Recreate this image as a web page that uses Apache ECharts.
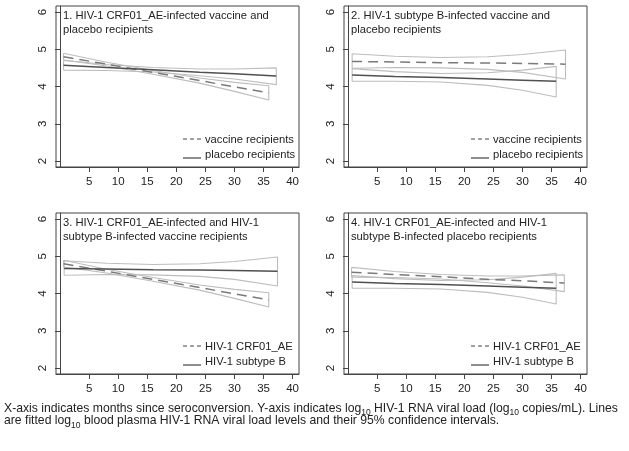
<!DOCTYPE html>
<html><head><meta charset="utf-8">
<script src="https://cdn.jsdelivr.net/npm/echarts@6/dist/echarts.min.js"></script>
<style>html,body{margin:0;padding:0;background:#fff}#c{width:629px;height:451px}</style>
</head><body><div id="c"></div>
<script>
// tick labels
const xTicks = [5, 10, 15, 20, 25, 30, 35, 40];
const yTicks = [2, 3, 4, 5, 6];

// HIV-1 CRF01_AE-infected vaccine recipients
const aeVacX = [0.6, 8, 16, 24, 30, 35.9];
const aeVacFit = [4.80, 4.60, 4.38, 4.16, 3.99, 3.83];
const aeVacUp = [4.89, 4.65, 4.43, 4.23, 4.11, 4.02];
const aeVacLo = [4.71, 4.55, 4.33, 4.09, 3.87, 3.64];
// HIV-1 CRF01_AE-infected placebo recipients
const aePlaX = [0.6, 8, 16, 24, 30, 37.2];
const aePlaFit = [4.57, 4.51, 4.45, 4.38, 4.34, 4.28];
const aePlaUp = [4.70, 4.59, 4.51, 4.47, 4.47, 4.50];
const aePlaLo = [4.44, 4.43, 4.39, 4.29, 4.20, 4.05];
// HIV-1 subtype B-infected vaccine recipients
const bVacX = [0.7, 8, 16, 24, 30, 37.4];
const bVacFit = [4.67, 4.66, 4.64, 4.63, 4.62, 4.60];
const bVacUp = [4.88, 4.81, 4.78, 4.80, 4.86, 4.98];
const bVacLo = [4.49, 4.51, 4.50, 4.46, 4.38, 4.20];
// HIV-1 subtype B-infected placebo recipients
const bPlaX = [0.7, 8, 16, 24, 30, 35.8];
const bPlaFit = [4.31, 4.27, 4.24, 4.20, 4.17, 4.14];
const bPlaUp = [4.48, 4.40, 4.35, 4.37, 4.44, 4.54];
const bPlaLo = [4.14, 4.14, 4.12, 4.03, 3.90, 3.72];

const panelTitles = [
  '1. HIV-1 CRF01_AE-infected vaccine and\nplacebo recipients',
  '2. HIV-1 subtype B-infected vaccine and\nplacebo recipients',
  '3. HIV-1 CRF01_AE-infected and HIV-1\nsubtype B-infected vaccine recipients',
  '4. HIV-1 CRF01_AE-infected and HIV-1\nsubtype B-infected placebo recipients'
];
const legendDashed = ['vaccine recipients', 'vaccine recipients', 'HIV-1 CRF01_AE', 'HIV-1 CRF01_AE'];
const legendSolid = ['placebo recipients', 'placebo recipients', 'HIV-1 subtype B', 'HIV-1 subtype B'];

const groups = {
  aeVac: [aeVacX, aeVacFit, aeVacUp, aeVacLo],
  aePla: [aePlaX, aePlaFit, aePlaUp, aePlaLo],
  bVac: [bVacX, bVacFit, bVacUp, bVacLo],
  bPla: [bPlaX, bPlaFit, bPlaUp, bPlaLo]
};
const panelGroups = [['aeVac', 'aePla'], ['bVac', 'bPla'], ['aeVac', 'bVac'], ['aePla', 'bPla']];

const FONT = '"Liberation Sans", Arial, sans-serif';
const grids = [
  {left: 56, top: 6, width: 243, height: 161},
  {left: 344, top: 6, width: 243, height: 161},
  {left: 56, top: 213, width: 243, height: 161},
  {left: 344, top: 213, width: 243, height: 161}
];

const xAxes = [], yAxes = [], series = [], graphics = [];
grids.forEach((g, i) => {
  g.show = true; g.borderColor = '#444'; g.borderWidth = 1; g.containLabel = false;
  xAxes.push({
    type: 'value', gridIndex: i, min: -0.7, max: 41.1,
    axisLine: {show: true, lineStyle: {color: '#444', width: 1}},
    axisTick: {show: true, length: 5, customValues: xTicks, lineStyle: {color: '#444'}},
    axisLabel: {customValues: xTicks, color: '#222', fontSize: 11.5, fontFamily: FONT, margin: 9},
    splitLine: {show: false}
  });
  yAxes.push({
    type: 'value', gridIndex: i, min: 1.84, max: 6.16,
    axisLine: {show: true, lineStyle: {color: '#444', width: 1}},
    axisTick: {show: true, length: 5, customValues: yTicks, lineStyle: {color: '#444'}},
    axisLabel: {customValues: yTicks, rotate: 90, color: '#222', fontSize: 11.5, fontFamily: FONT, margin: 7},
    splitLine: {show: false}
  });
  const [dk, sk] = panelGroups[i];
  [dk, sk].forEach(k => {
    const [xs, fit, up, lo] = groups[k];
    const poly = xs.map((x, j) => [x, up[j]]);
    for (let j = xs.length - 1; j >= 0; j--) poly.push([xs[j], lo[j]]);
    poly.push([xs[0], up[0]]);
    series.push({type: 'line', xAxisIndex: i, yAxisIndex: i, data: poly, symbol: 'none', silent: true,
      lineStyle: {color: '#bdbdbd', width: 1.1}, z: 2});
  });
  [dk, sk].forEach((k, m) => {
    const [xs, fit] = groups[k];
    series.push({type: 'line', xAxisIndex: i, yAxisIndex: i, data: xs.map((x, j) => [x, fit[j]]),
      symbol: 'none', silent: true, z: 3,
      lineStyle: m === 0 ? {color: '#7a7a7a', width: 1.5, type: [10, 6]} : {color: '#505050', width: 1.5}});
  });
  // panel title
  graphics.push({type: 'text', left: g.left + 7, top: g.top + 3,
    style: {text: panelTitles[i], font: '11.2px ' + FONT, fill: '#222', lineHeight: 14}});
  // legend
  const lx = g.left + 127;
  const ly = g.top + 133;
  graphics.push({type: 'line', shape: {x1: lx, y1: ly, x2: lx + 18, y2: ly},
    style: {stroke: '#444', lineWidth: 1.2, lineDash: [4, 3]}});
  graphics.push({type: 'line', shape: {x1: lx, y1: ly + 19, x2: lx + 18, y2: ly + 19},
    style: {stroke: '#444', lineWidth: 1.2}});
  graphics.push({type: 'text', left: lx + 22, top: ly - 7,
    style: {text: legendDashed[i] + '\n' + legendSolid[i], font: '11.2px ' + FONT, fill: '#222', lineHeight: 15}});
});

graphics.push({type: 'text', left: 4, top: 402,
  style: {
    text: 'X-axis indicates months since seroconversion. Y-axis indicates log{s|10} HIV-1 RNA viral load (log{s|10} copies/mL). Lines\nare fitted log{s|10} blood plasma HIV-1 RNA viral load levels and their 95% confidence intervals.',
    font: '12.2px ' + FONT, fill: '#222', lineHeight: 12.5,
    rich: {s: {fontSize: 8.5, fontFamily: FONT, fill: '#222', lineHeight: 12.5, verticalAlign: 'bottom', padding: [0, 0, -3, 0]}}
  }});

const chart = echarts.init(document.getElementById('c'), null, {renderer: 'canvas'});
chart.setOption({
  animation: false,
  backgroundColor: '#fff',
  grid: grids, xAxis: xAxes, yAxis: yAxes, series: series, graphic: graphics
});
</script></body></html>
